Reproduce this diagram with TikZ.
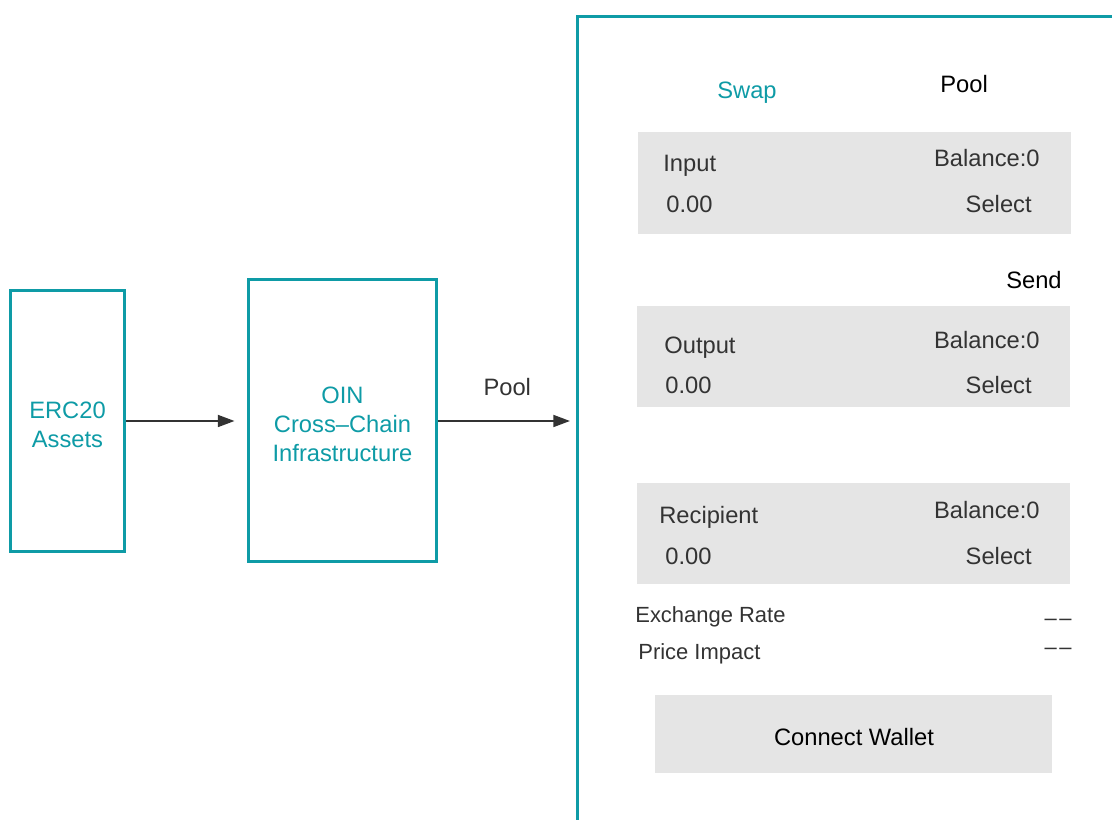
\documentclass[tikz,border=0pt]{standalone}
\usepackage{fontspec}
\setmainfont{Liberation Sans}
\usepackage[HTML]{xcolor}
\usetikzlibrary{positioning, arrows.meta}

\definecolor{ointeal}{HTML}{0E9BA6}
\definecolor{fieldgray}{HTML}{E5E5E5}
\definecolor{inkgray}{HTML}{333333}

\tikzset{
  tealbox/.style={draw=ointeal, line width=1.7pt, inner sep=0pt},
  tealtext/.style={text=ointeal, align=center, inner sep=0pt, yshift=-0.08cm,
    font=\fontsize{13.5}{16.4}\selectfont},
  field/.style={fill=fieldgray, draw=none, anchor=north west, inner sep=0pt},
  fieldtext/.style={text=inkgray, inner sep=0pt, font=\fontsize{13.5}{16}\selectfont},
  smalltext/.style={text=inkgray, inner sep=0pt, font=\fontsize{12.5}{15}\selectfont},
  flow/.style={draw=inkgray, line width=1.1pt, -{Triangle[length=9.5pt,width=6.8pt]}}
}

\begin{document}
\begin{tikzpicture}[x=0.02cm,y=-0.02cm]
\useasboundingbox (0,0) rectangle (1112,820);
\clip (0,0) rectangle (1112,820);

% left blocks
\node[tealbox, minimum width=2.3cm, minimum height=5.22cm,
  label={[tealtext]center:ERC20\\Assets}] (erc) at (67.5,421) {};
\node[tealbox, minimum width=3.78cm, minimum height=5.66cm,
  label={[tealtext]center:OIN\\Cross--Chain\\Infrastructure}] (oin) at (342.5,420.5) {};

% app panel (runs off the page)
\node[draw=ointeal, line width=1.7pt, anchor=north west, minimum width=12cm, minimum height=17cm, inner sep=0pt] (panel) at (576,15) {};

% arrows
\draw[flow, shorten >=0.24cm] (erc.east) -- (erc.east -| oin.west);
\draw[flow, shorten >=0.12cm] (oin.east |- erc.east) -- (erc.east -| panel.west)
  node[midway, above=0.48cm, fieldtext] (poollabel) {Pool};

% tabs
\node[fieldtext, text=ointeal, anchor=base west] (swaptab) at (717,99) {Swap};
\node[fieldtext, text=black, anchor=base west] (pooltab) at (940,93) {Pool};

% input field
\node[field, minimum width=8.66cm, minimum height=2.04cm] (input) at (638,132) {};
\node[fieldtext, anchor=base west] (inputlabel) at (663,172) {Input};
\node[fieldtext, anchor=base west] (inputvalue) at (666,213) {0.00};
\node[fieldtext, anchor=base east] (inputbal) at (1040,167) {Balance:0};
\node[fieldtext, anchor=base east] (inputsel) at (1032,213) {Select};

\node[fieldtext, text=black, anchor=base east] (send) at (1062,289) {Send};

% output field
\node[field, minimum width=8.66cm, minimum height=2.02cm] (output) at (637,306) {};
\node[fieldtext, anchor=base west] (outputlabel) at (664,354) {Output};
\node[fieldtext, anchor=base west] (outputvalue) at (665,394) {0.00};
\node[fieldtext, anchor=base east] (outputbal) at (1040,349) {Balance:0};
\node[fieldtext, anchor=base east] (outputsel) at (1032,394) {Select};

% recipient field
\node[field, minimum width=8.66cm, minimum height=2.02cm] (recipient) at (637,483) {};
\node[fieldtext, anchor=base west] (reclabel) at (659,523) {Recipient};
\node[fieldtext, anchor=base west] (recvalue) at (665,564) {0.00};
\node[fieldtext, anchor=base east] (recbal) at (1040,519) {Balance:0};
\node[fieldtext, anchor=base east] (recsel) at (1032,564) {Select};

% rate lines
\node[smalltext, anchor=base west] (rate) at (635,622) {Exchange Rate};
\node[smalltext, anchor=base east] (ratevalue) at (1072,625) {--\kern1.5pt--};
\node[smalltext, anchor=base west] (impact) at (638,659) {Price Impact};
\node[smalltext, anchor=base east] (impactvalue) at (1072,654) {--\kern1.5pt--};

% button
\node[field, minimum width=7.94cm, minimum height=1.56cm] (wallet) at (655,695) {};
\node[fieldtext, text=black, anchor=base] (walletlabel) at (854,745) {Connect Wallet};
\end{tikzpicture}
\end{document}
